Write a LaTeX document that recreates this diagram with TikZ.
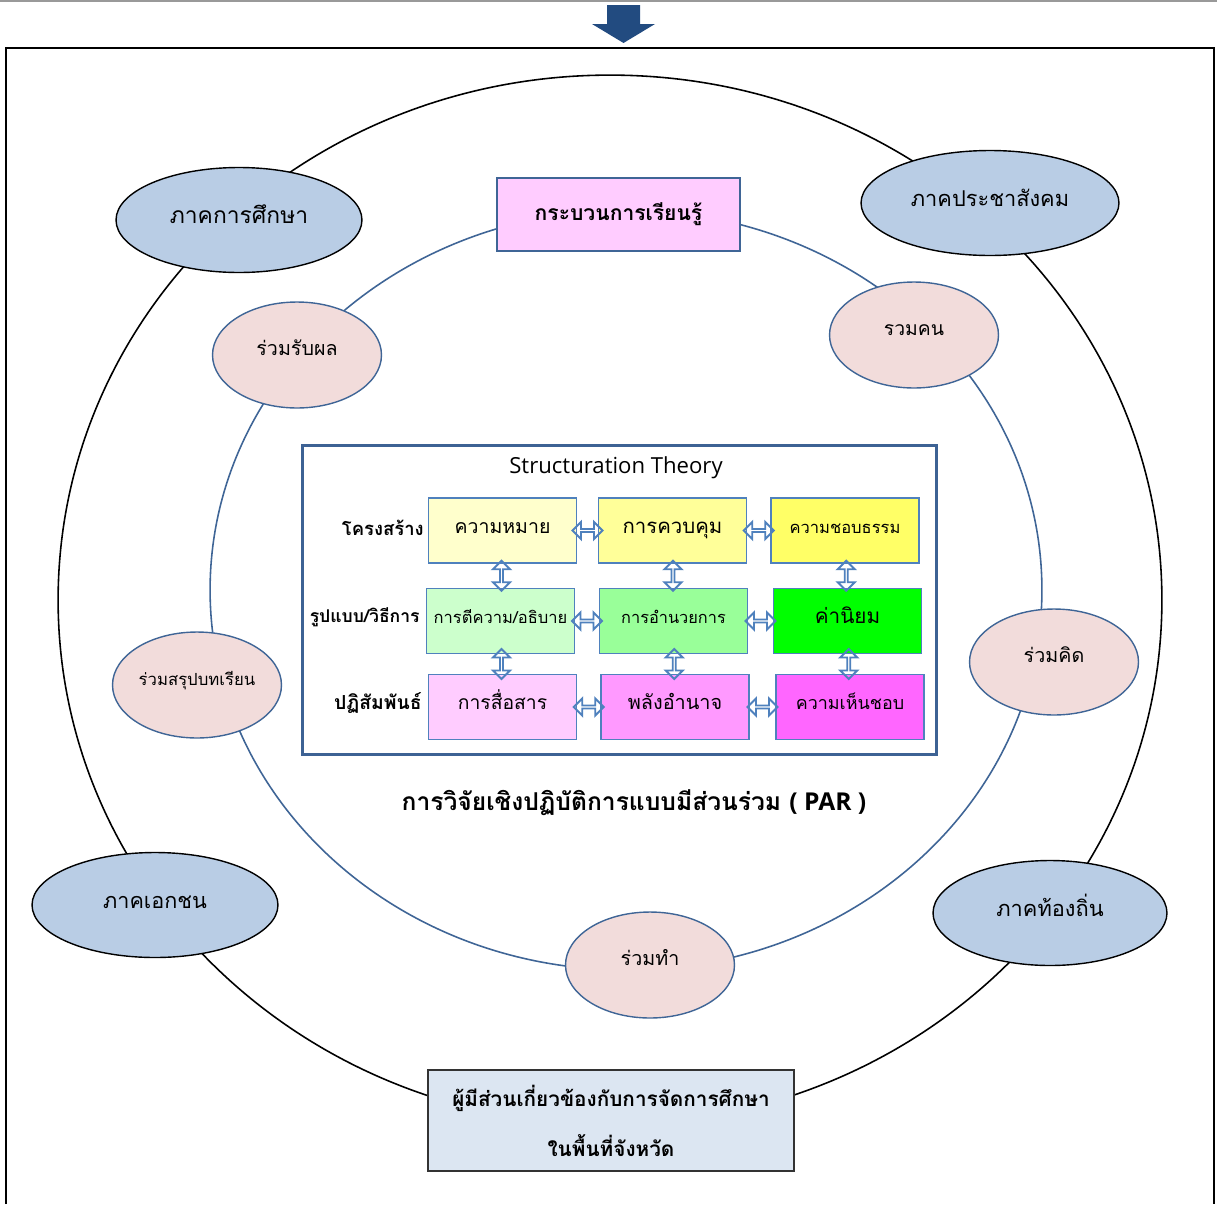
\documentclass[tikz,border=0pt]{standalone}
\usepackage{fontspec}
\setmainfont[Script=Thai]{Loma}
\newfontfamily\latinfont{Open Sans}
\usetikzlibrary{shapes.geometric,shapes.arrows}

\definecolor{sectorfill}{HTML}{B9CDE5}
\definecolor{joinfill}{HTML}{F2DCDB}
\definecolor{ringblue}{HTML}{3F6596}
\definecolor{boxline}{HTML}{4F81BD}
\definecolor{framecol}{HTML}{3D6294}
\definecolor{arrowfill}{HTML}{224B80}
\definecolor{learnfill}{HTML}{FFCCFF}
\definecolor{stakefill}{HTML}{DCE6F2}
\definecolor{ylA}{HTML}{FFFFCC}
\definecolor{ylB}{HTML}{FFFF99}
\definecolor{ylC}{HTML}{FFFF66}
\definecolor{grA}{HTML}{CCFFCC}
\definecolor{grB}{HTML}{99FF99}
\definecolor{grC}{HTML}{00FF00}
\definecolor{pkA}{HTML}{FFCCFF}
\definecolor{pkB}{HTML}{FF99FF}
\definecolor{pkC}{HTML}{FF66FF}

\newcommand{\fs}[1]{\fontsize{#1}{#1}\selectfont}

\tikzset{
  sector/.style={ellipse,draw=black,line width=0.8pt,fill=sectorfill,inner sep=0pt,
    minimum width=4.92cm,minimum height=2.1cm,text height=0.32cm,text depth=0.18cm,
    font=\fs{13}},
  joinpart/.style={ellipse,draw=ringblue,line width=0.8pt,fill=joinfill,inner sep=0pt,
    minimum width=3.38cm,minimum height=2.12cm,text height=0.25cm,text depth=0.25cm,
    font=\fs{11.2}},
  cell/.style={draw=boxline,line width=1.1pt,inner sep=0pt,
    minimum width=2.96cm,minimum height=1.3cm,text height=0.22cm,text depth=0.12cm},
  hlink/.style={double arrow,draw=boxline,line width=1.1pt,inner sep=0pt,
    minimum height=0.6cm,minimum width=0.34cm,double arrow head extend=0.09cm},
  vlink/.style={hlink,shape border rotate=90},
  rowlabel/.style={anchor=east,inner sep=0pt,font=\bfseries\fs{10.5}},
}

\begin{document}
\begin{tikzpicture}[x=0.02cm,y=-0.02cm]
  \useasboundingbox (0,0) rectangle (1217,1204);

  % top rule and arrow
  \draw[line width=1pt,black!40] (0,1) -- (1217,1);
  \fill[arrowfill] (607,5) -- (640,5) -- (640,24) -- (655,24) -- (623.5,43)
    -- (592,24) -- (607,24) -- cycle;
  \draw[line width=1.5pt] (6,1204) -- (6,48) -- (1214,48) -- (1214,1204);

  % rings
  \draw[line width=0.9pt] (610,600) ellipse [x radius=11.04cm,y radius=10.5cm];
  \draw[line width=0.9pt,ringblue] (626,590) ellipse [x radius=8.32cm,y radius=7.6cm];

  % sectors
  \node[sector] (edu) at (239,220) {ภาคการศึกษา};
  \node[sector,minimum width=5.16cm,font=\fs{12.4}] (civil) at (990,203) {ภาคประชาสังคม};
  \node[sector,font=\fs{12.3}] (private) at (155,905) {ภาคเอกชน};
  \node[sector,minimum width=4.68cm,font=\fs{12.4}] (local) at (1050,913) {ภาคท้องถิ่น};

  % participation
  \node[joinpart] (reap) at (297,355) {ร่วมรับผล};
  \node[joinpart,font=\fs{11}] (gather) at (914,335) {รวมคน};
  \node[joinpart,font=\fs{9.5}] (summ) at (197,685) {ร่วมสรุปบทเรียน};
  \node[joinpart] (think) at (1054,662) {ร่วมคิด};
  \node[joinpart] (act) at (650,965) {ร่วมทำ};

  \node[draw=ringblue,fill=learnfill,line width=0.8pt,minimum width=4.86cm,
    minimum height=1.46cm,font=\bfseries\fs{12}] (learn) at (618.5,214.5) {กระบวนการเรียนรู้};

  % structuration theory
  \node[draw=framecol,line width=1.7pt,fill=white,minimum width=12.7cm,
    minimum height=6.2cm] (frame) at (619.5,600) {};
  \node[font=\latinfont\fs{12.6}] (title) at (616,468) {Structuration Theory};

  \node[cell,fill=ylA,font=\fs{11.1}] (m11) at (502.5,530.5) {ความหมาย};
  \node[cell,fill=ylB,font=\fs{11.6}] (m12) at (672.5,530.5) {การควบคุม};
  \node[cell,fill=ylC,font=\fs{9.4}] (m13) at (845,530.5) {ความชอบธรรม};
  \node[cell,fill=grA,font=\fs{9.4}] (m21) at (500.5,621) {การตีความ/อธิบาย};
  \node[cell,fill=grB,font=\fs{9.3}] (m22) at (673.5,621) {การอำนวยการ};
  \node[cell,fill=grC,font=\fs{11.8}] (m23) at (847.5,621) {ค่านิยม};
  \node[cell,fill=pkA,font=\fs{11}] (m31) at (502.5,707) {การสื่อสาร};
  \node[cell,fill=pkB,font=\fs{11.3}] (m32) at (675,707) {พลังอำนาจ};
  \node[cell,fill=pkC,font=\fs{10.2}] (m33) at (850,707) {ความเห็นชอบ};

  \node[rowlabel] (lab1) at (424,528) {โครงสร้าง};
  \node[rowlabel,font=\bfseries\fs{10}] (lab2) at (420,617) {รูปแบบ/วิธีการ};
  \node[rowlabel,font=\bfseries\fs{11}] (lab3) at (422,703) {ปฏิสัมพันธ์};

  \path (m11.east) -- node[hlink]{} (m12.west);
  \path (m12.east) -- node[hlink]{} (m13.west);
  \path (m21.east) -- node[hlink]{} (m22.west);
  \path (m22.east) -- node[hlink]{} (m23.west);
  \path (m31.east) -- node[hlink]{} (m32.west);
  \path (m32.east) -- node[hlink]{} (m33.west);
  \path (m11.south) -- node[vlink]{} (m21.north);
  \path (m12.south) -- node[vlink]{} (m22.north);
  \path (m13.south) -- node[vlink]{} (m23.north);
  \path (m21.south) -- node[vlink]{} (m31.north);
  \path (m22.south) -- node[vlink]{} (m32.north);
  \path (m23.south) -- node[vlink]{} (m33.north);

  \node[font=\bfseries\fs{14}] (par) at (634,803)
    {การวิจัยเชิงปฏิบัติการแบบมีส่วนร่วม {\latinfont ( PAR )}};

  % stakeholders
  \node[draw=black!80,fill=stakefill,line width=0.8pt,minimum width=7.32cm,
    minimum height=2.02cm,align=center,font=\bfseries\fs{11.8}] (stake) at (611,1120.5)
    {ผู้มีส่วนเกี่ยวข้องกับการจัดการศึกษา\\[12pt]ในพื้นที่จังหวัด};
\end{tikzpicture}
\end{document}
